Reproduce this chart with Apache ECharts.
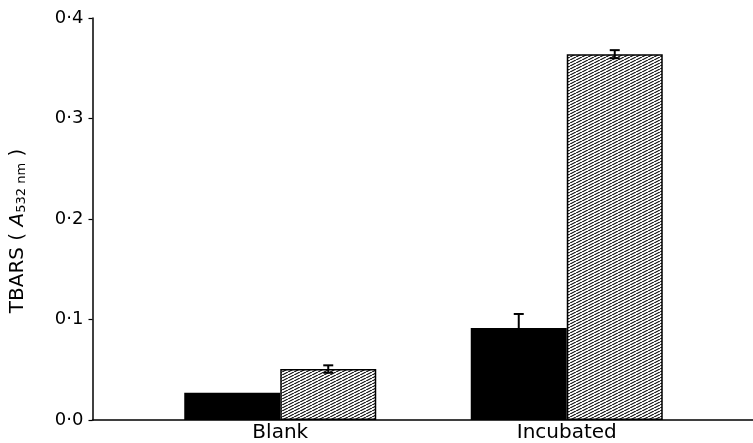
<!DOCTYPE html>
<html>
<head>
<meta charset="utf-8">
<script src="https://cdn.jsdelivr.net/npm/echarts@6/dist/echarts.min.js"></script>
<style>
html,body{margin:0;padding:0;background:#fff;}
#c{width:753px;height:443px;}
</style>
</head>
<body>
<div id="c"></div>
<script>
// ---- data ----
var categories = ['Blank', 'Incubated'];
var solidValues = [0.027, 0.0915];
var solidErrors = [0.0, 0.014];
var hatchedValues = [0.0507, 0.364];
var hatchedErrors = [0.0037, 0.004];
var yMin = 0, yMax = 0.4, yStep = 0.1;

var FONT = 'DejaVu Sans, Liberation Sans, Arial, sans-serif';

// hatch pattern (diagonal lines rising to the right)
function makeHatch() {
  var w = 6, h = 3;
  var cv = document.createElement('canvas');
  cv.width = w; cv.height = h;
  var ctx = cv.getContext('2d');
  ctx.fillStyle = '#fff';
  ctx.fillRect(0, 0, w, h);
  ctx.strokeStyle = '#000';
  ctx.lineWidth = 1.1;
  ctx.beginPath();
  ctx.moveTo(0, h); ctx.lineTo(w, 0);
  ctx.moveTo(-w, h); ctx.lineTo(0, 0);
  ctx.moveTo(w, h); ctx.lineTo(2 * w, 0);
  ctx.stroke();
  return cv;
}
var hatch = makeHatch();

var barWidth = 96;

function errorSeries(values, errors, side, both) {
  var data = values.map(function (v, i) { return [i, v, errors[i]]; });
  return {
    type: 'custom',
    xAxisIndex: 0, yAxisIndex: 0,
    z: 10,
    data: data,
    renderItem: function (params, api) {
      var i = api.value(0), v = api.value(1), e = api.value(2);
      if (!e) return null;
      var c = api.coord([i, v]);
      var x = c[0] + side * barWidth / 2;
      var top = api.coord([i, v + e])[1];
      var bot = both ? api.coord([i, v - e])[1] : c[1];
      var cap = 5;
      var st = { stroke: '#000', lineWidth: 2 };
      return {
        type: 'group',
        children: [
          { type: 'line', shape: { x1: x, y1: top, x2: x, y2: bot }, style: st },
          { type: 'line', shape: { x1: x - cap, y1: top, x2: x + cap, y2: top }, style: st },
          both ? { type: 'line', shape: { x1: x - cap, y1: bot, x2: x + cap, y2: bot }, style: st } : null
        ].filter(Boolean)
      };
    }
  };
}

var chart = echarts.init(document.getElementById('c'), null, { renderer: 'canvas' });
chart.setOption({
  backgroundColor: '#fff',
  animation: false,
  grid: [
    { left: 137, right: 43, top: 18, bottom: 23 },
    { left: 91, right: 0, top: 18, bottom: 23 }
  ],
  xAxis: [
    {
      type: 'category', gridIndex: 0, data: categories,
      axisLine: { show: false }, axisTick: { show: false },
      axisLabel: { color: '#000', fontSize: 20, fontFamily: FONT, margin: 3 }
    },
    {
      type: 'value', gridIndex: 1, min: 0, max: 1,
      axisLine: { show: true, lineStyle: { color: '#000', width: 1.5 } },
      axisTick: { show: false }, axisLabel: { show: false }, splitLine: { show: false }
    }
  ],
  yAxis: [
    {
      type: 'value', gridIndex: 0, min: yMin, max: yMax, interval: yStep,
      show: false, splitLine: { show: false }
    },
    {
      type: 'value', gridIndex: 1, min: yMin, max: yMax, interval: yStep,
      axisLine: { show: true, lineStyle: { color: '#000', width: 1.5 } },
      axisTick: { show: true, length: 4, lineStyle: { color: '#000', width: 1.2 } },
      splitLine: { show: false },
      axisLabel: {
        color: '#000', fontSize: 18, fontFamily: FONT, margin: 9,
        formatter: function (v) { return v.toFixed(1).replace('.', '\u00b7'); }
      },
      name: '{n|TBARS ( }{i|A}{s|532 nm}{n| )}',
      nameLocation: 'middle',
      nameRotate: 90,
      nameGap: 64,
      nameTextStyle: {
        color: '#000',
        padding: [0, 24, 0, 0],
        rich: {
          n: { fontSize: 20, fontFamily: FONT, color: '#000' },
          i: { fontSize: 20, fontStyle: 'italic', fontFamily: FONT, color: '#000' },
          s: { fontSize: 13, fontFamily: FONT, color: '#000', verticalAlign: 'bottom', padding: [8, 0, 0, 0] }
        }
      }
    }
  ],
  series: [
    {
      type: 'bar', xAxisIndex: 0, yAxisIndex: 0,
      data: solidValues, barWidth: barWidth, barGap: '0%',
      itemStyle: { color: '#000' }
    },
    {
      type: 'bar', xAxisIndex: 0, yAxisIndex: 0,
      data: hatchedValues, barWidth: barWidth, barGap: '0%',
      itemStyle: { color: { image: hatch, repeat: 'repeat' }, borderColor: '#000', borderWidth: 1.5 }
    },
    errorSeries(solidValues, solidErrors, -1, false),
    errorSeries(hatchedValues, hatchedErrors, 1, true)
  ]
});
</script>
</body>
</html>
